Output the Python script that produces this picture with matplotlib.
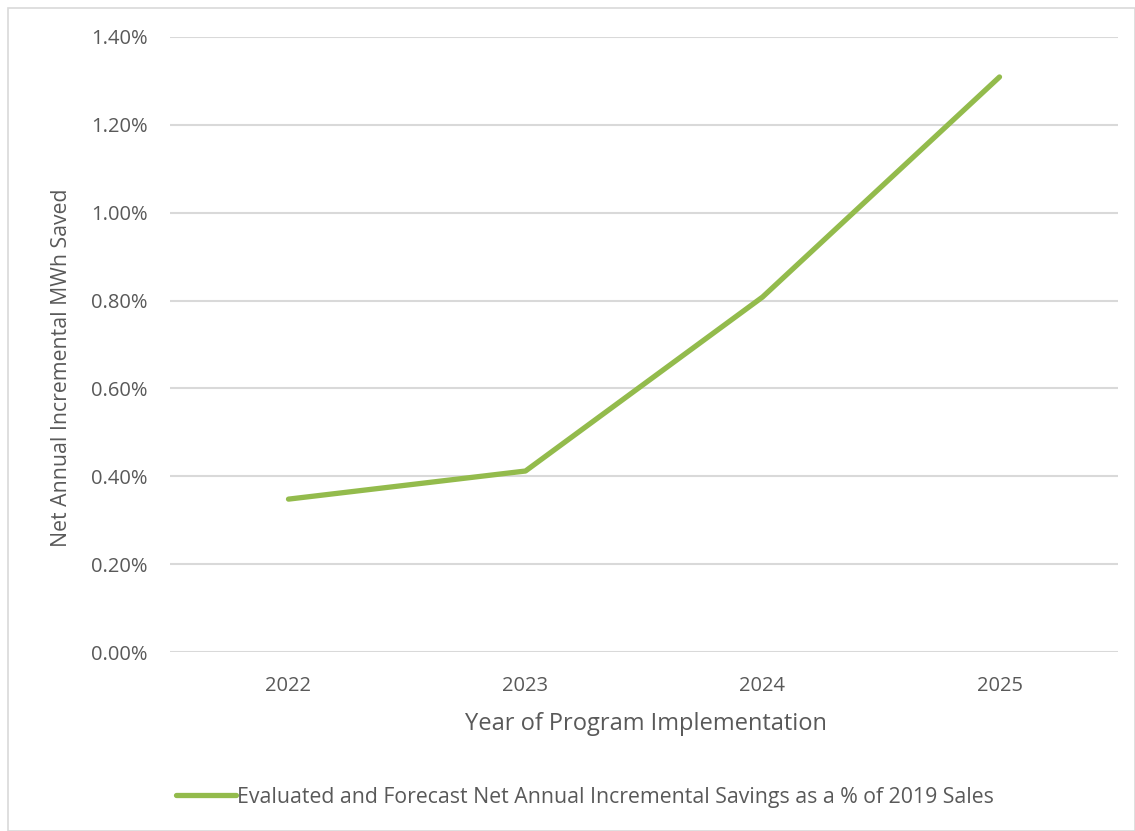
import matplotlib
matplotlib.use("Agg")
import matplotlib.pyplot as plt
from matplotlib.patches import Rectangle
from matplotlib.ticker import FuncFormatter

years = ["2022", "2023", "2024", "2025"]
savings_pct = [0.348, 0.412, 0.808, 1.309]
y_ticks = [0.0, 0.2, 0.4, 0.6, 0.8, 1.0, 1.2, 1.4]
series_label = "Evaluated and Forecast Net Annual Incremental Savings as a % of 2019 Sales"

plt.rcParams['font.family'] = ['Open Sans', 'DejaVu Sans']
grey = '#595959'

fig = plt.figure(figsize=(11.35, 8.31), dpi=100)
fig.patches.append(Rectangle((8/1135, 0), 1 - 8/1135, 1 - 8/831, transform=fig.transFigure,
                             fill=False, edgecolor='#d9d9d9', linewidth=1.2))
ax = fig.add_axes([170/1135, 1 - 652/831, (1118 - 170)/1135, (652 - 37)/831])

x = list(range(len(years)))
ln, = ax.plot(x, savings_pct, color='#93bb4c', linewidth=3.8, solid_capstyle='round',
              solid_joinstyle='round', label=series_label)

ax.set_xlim(-0.5, len(years) - 0.5)
ax.set_ylim(0, 1.4)
ax.set_yticks(y_ticks)
ax.yaxis.set_major_formatter(FuncFormatter(lambda v, p: f"{v:.2f}%"))
ax.set_xticks(x)
ax.set_xticklabels(years)
ax.grid(axis='y', color='#d9d9d9', linewidth=1.5)
ax.set_axisbelow(True)
for s in ax.spines.values():
    s.set_visible(False)
ax.tick_params(length=0, labelsize=14.5, colors=grey)
ax.tick_params(axis='x', pad=17)
ax.tick_params(axis='y', pad=16)

fig.text(646/1135, 1 - 724/831, "Year of Program Implementation", ha='center', va='center',
         fontsize=17, color=grey)
fig.text(62/1135, 1 - 368/831, "Net Annual Incremental MWh Saved", ha='center', va='center',
         rotation=90, fontsize=15.3, color=grey)

fig.legend(handles=[ln], labels=[series_label], loc='center', bbox_to_anchor=(585/1135, 1 - 797/831),
           frameon=False, fontsize=15.3, labelcolor=grey, handlelength=2.8, handletextpad=0.05)

fig.savefig("out.png", dpi=100)
